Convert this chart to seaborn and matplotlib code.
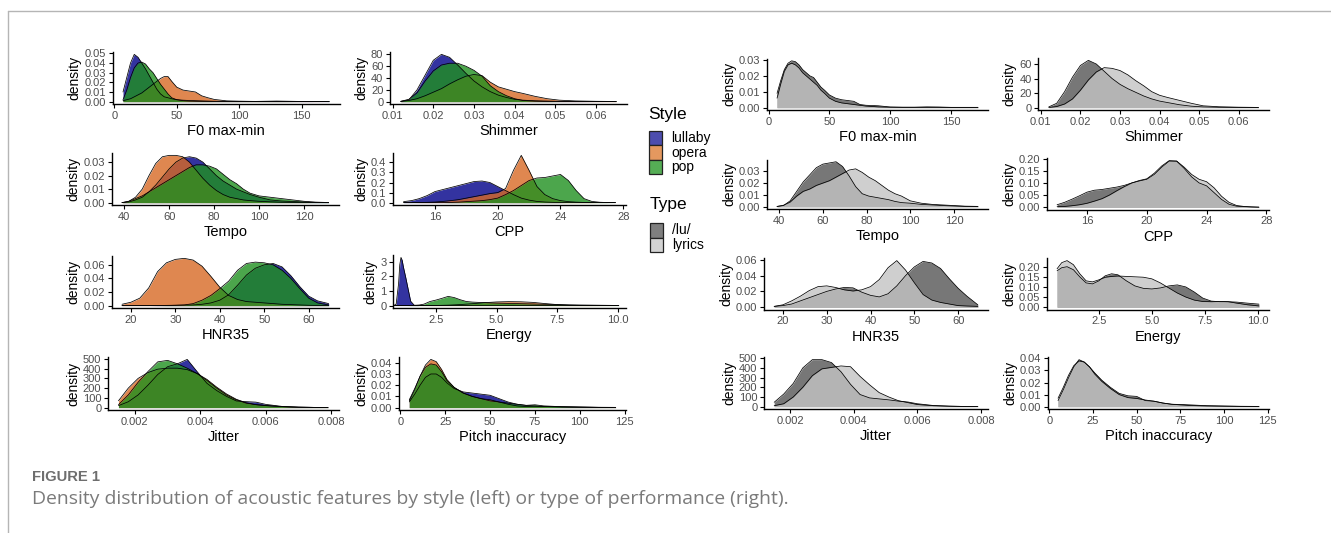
import numpy as np
import pandas as pd
import matplotlib
matplotlib.use("Agg")
import matplotlib.pyplot as plt
from matplotlib.patches import Rectangle
from matplotlib.lines import Line2D
import seaborn as sns

# ---------------------------------------------------------------- data
STYLES = ["lullaby", "opera", "pop"]
TYPES = ["/lu/", "lyrics"]

F0_X = [7, 10, 13, 16, 19, 22, 25, 28, 31, 34, 37, 40, 43, 46, 50, 55, 60, 65, 70, 75,
        80, 90, 100, 110, 120, 130, 140, 150, 160, 172]
F0_LULLABY = [0.010, 0.025, 0.040, 0.049, 0.046, 0.040, 0.034, 0.027, 0.020, 0.013, 0.008, 0.005,
              0.004, 0.003, 0.002, 0.0015, 0.0012, 0.001, 0.0008, 0.0006, 0.0004, 0.0003, 0.0002,
              0.0002, 0.0004, 0.0006, 0.0004, 0.0002, 0.0001, 0.0001]
F0_OPERA = [0.001, 0.002, 0.003, 0.005, 0.007, 0.009, 0.012, 0.015, 0.018, 0.021, 0.024, 0.026,
            0.026, 0.021, 0.015, 0.012, 0.011, 0.010, 0.006, 0.004, 0.0023, 0.0008, 0.0005, 0.0003,
            0.0002, 0.0002, 0.0001, 0.0001, 0.0001, 0.0]
F0_POP = [0.002, 0.012, 0.025, 0.035, 0.040, 0.041, 0.039, 0.034, 0.030, 0.024, 0.018, 0.013,
          0.008, 0.004, 0.002, 0.001, 0.0006, 0.0004, 0.0003, 0.0002, 0.0001, 0.0001, 0.0001,
          0.0001, 0.0001, 0.0001, 0.0001, 0.0, 0.0, 0.0]
F0_LU = [0.009, 0.017, 0.024, 0.028, 0.0295, 0.029, 0.027, 0.024, 0.022, 0.020, 0.019, 0.016,
         0.013, 0.011, 0.008, 0.006, 0.005, 0.0045, 0.004, 0.002, 0.0015, 0.0012, 0.0004, 0.0003,
         0.0003, 0.0005, 0.0004, 0.0002, 0.0002, 0.0002]
F0_LYRICS = [0.006, 0.015, 0.023, 0.027, 0.028, 0.027, 0.025, 0.022, 0.020, 0.018, 0.016, 0.014,
             0.011, 0.009, 0.006, 0.004, 0.003, 0.0025, 0.002, 0.0015, 0.001, 0.0005, 0.0003,
             0.0002, 0.0002, 0.0002, 0.0002, 0.0001, 0.0001, 0.0001]

SHIM_X = [0.012, 0.014, 0.016, 0.018, 0.020, 0.022, 0.024, 0.026, 0.028, 0.030, 0.032, 0.034,
          0.036, 0.038, 0.040, 0.042, 0.045, 0.048, 0.051, 0.055, 0.060, 0.065]
SHIM_LULLABY = [0.5, 3, 20, 45, 70, 80, 75, 62, 48, 35, 25, 17, 11, 7, 4, 2.5, 1.5, 1, 0.5, 0.3, 0.1, 0]
SHIM_OPERA = [0.3, 2, 5, 10, 16, 22, 30, 37, 43, 46, 44, 33, 25, 21, 17, 14, 9, 5, 2.5, 1.2, 0.6, 0.3]
SHIM_POP = [0.5, 4, 15, 35, 52, 62, 65, 65, 60, 53, 43, 27, 17, 10, 5, 2, 0.8, 0.3, 0.1, 0, 0, 0]
SHIM_LU = [1, 6, 22, 42, 58, 65, 60, 50, 40, 32, 26, 21, 16, 12, 9, 7, 4, 2, 1, 0.5, 0.3, 0.2]
SHIM_LYRICS = [0.3, 1.5, 5, 12, 24, 38, 49, 55, 54, 51, 45, 37, 30, 22, 17, 14, 10, 6, 2.5, 1.2, 0.6, 0.3]

TEMPO_X = [39, 42, 45, 48, 51, 54, 57, 60, 63, 66, 69, 72, 75, 78, 81, 84, 87, 90, 93, 96, 100,
           105, 110, 115, 120, 125, 131]
TEMPO_LULLABY = [0, 0.0005, 0.002, 0.004, 0.008, 0.013, 0.019, 0.025, 0.030, 0.033, 0.034, 0.033,
                 0.030, 0.025, 0.020, 0.016, 0.013, 0.010, 0.008, 0.006, 0.004, 0.002, 0.0012,
                 0.0008, 0.0005, 0.0002, 0.0001]
TEMPO_OPERA = [0, 0.001, 0.004, 0.010, 0.020, 0.029, 0.034, 0.035, 0.035, 0.034, 0.030, 0.024,
               0.018, 0.013, 0.009, 0.006, 0.004, 0.003, 0.002, 0.0015, 0.001, 0.0006, 0.0003,
               0.0002, 0.0001, 0, 0]
TEMPO_POP = [0, 0.001, 0.003, 0.005, 0.008, 0.011, 0.014, 0.017, 0.020, 0.023, 0.026, 0.028,
             0.028, 0.027, 0.025, 0.021, 0.017, 0.014, 0.010, 0.007, 0.005, 0.004, 0.003, 0.002,
             0.001, 0.0004, 0.0001]
TEMPO_LU = [0.0003, 0.001, 0.005, 0.013, 0.021, 0.027, 0.033, 0.036, 0.037, 0.038, 0.034, 0.026,
            0.017, 0.011, 0.009, 0.008, 0.007, 0.006, 0.0045, 0.0035, 0.003, 0.002, 0.0015, 0.001,
            0.0006, 0.0003, 0.0002]
TEMPO_LYRICS = [0.0002, 0.0013, 0.004, 0.009, 0.013, 0.015, 0.018, 0.020, 0.022, 0.025, 0.028,
                0.031, 0.032, 0.029, 0.025, 0.022, 0.018, 0.014, 0.011, 0.009, 0.005, 0.003,
                0.002, 0.0015, 0.001, 0.0005, 0.0003]

CPP_X = [14, 14.5, 15, 15.5, 16, 16.5, 17, 17.5, 18, 18.5, 19, 19.5, 20, 20.5, 21, 21.5, 22,
         22.5, 23, 23.5, 24, 24.5, 25, 25.5, 26, 26.5, 27, 27.5]
CPP_LULLABY = [0.01, 0.02, 0.04, 0.07, 0.11, 0.13, 0.15, 0.17, 0.19, 0.21, 0.215, 0.20, 0.16,
               0.12, 0.08, 0.045, 0.025, 0.012, 0.006, 0.003, 0.001, 0, 0, 0, 0, 0, 0, 0]
CPP_OPERA = [0, 0, 0.001, 0.003, 0.006, 0.012, 0.02, 0.03, 0.045, 0.06, 0.075, 0.09, 0.10, 0.14,
             0.32, 0.47, 0.32, 0.16, 0.08, 0.04, 0.02, 0.01, 0.005, 0.002, 0.001, 0, 0, 0]
CPP_POP = [0, 0, 0, 0, 0, 0, 0.002, 0.005, 0.01, 0.015, 0.02, 0.03, 0.045, 0.08, 0.12, 0.17,
           0.22, 0.245, 0.25, 0.265, 0.28, 0.22, 0.12, 0.04, 0.012, 0.004, 0.001, 0]
CPP_LU = [0.01, 0.02, 0.033, 0.047, 0.062, 0.07, 0.073, 0.078, 0.083, 0.09, 0.10, 0.108, 0.115,
          0.135, 0.165, 0.19, 0.19, 0.16, 0.125, 0.10, 0.088, 0.06, 0.032, 0.012, 0.004, 0.002,
          0.001, 0]
CPP_LYRICS = [0.002, 0.003, 0.006, 0.01, 0.016, 0.025, 0.035, 0.05, 0.068, 0.085, 0.10, 0.11,
              0.117, 0.14, 0.17, 0.192, 0.19, 0.165, 0.135, 0.115, 0.105, 0.08, 0.045, 0.02,
              0.007, 0.003, 0.001, 0]

HNR_X = [18, 20, 22, 24, 26, 28, 30, 32, 34, 36, 38, 40, 42, 44, 46, 48, 50, 52, 54, 56, 58, 60,
         62, 64.5]
HNR_LULLABY = [0, 0, 0, 0, 0.0002, 0.0004, 0.0006, 0.0008, 0.001, 0.002, 0.004, 0.008, 0.016,
               0.030, 0.045, 0.055, 0.060, 0.062, 0.057, 0.044, 0.028, 0.014, 0.007, 0.003]
HNR_OPERA = [0.002, 0.005, 0.011, 0.026, 0.050, 0.063, 0.068, 0.0695, 0.067, 0.058, 0.043,
             0.027, 0.015, 0.009, 0.006, 0.005, 0.004, 0.003, 0.002, 0.0015, 0.001, 0.0005,
             0.0003, 0.0001]
HNR_POP = [0, 0, 0, 0, 0, 0.0002, 0.0005, 0.001, 0.003, 0.008, 0.015, 0.025, 0.036, 0.052,
           0.062, 0.064, 0.063, 0.060, 0.052, 0.040, 0.025, 0.011, 0.004, 0.001]
HNR_LU = [0.001, 0.002, 0.004, 0.008, 0.012, 0.016, 0.020, 0.023, 0.025, 0.0245, 0.019, 0.015,
          0.013, 0.017, 0.027, 0.040, 0.051, 0.058, 0.056, 0.049, 0.036, 0.024, 0.014, 0.003]
HNR_LYRICS = [0.001, 0.003, 0.008, 0.014, 0.021, 0.026, 0.027, 0.025, 0.022, 0.0205, 0.022,
              0.026, 0.035, 0.050, 0.059, 0.047, 0.031, 0.016, 0.009, 0.006, 0.004, 0.002,
              0.0015, 0.001]

EN_X = [0.53, 0.65, 0.75, 0.85, 0.95, 1.0, 1.05, 1.1, 1.15, 1.25, 1.35, 1.45, 1.6, 1.8, 2.0,
        2.25, 2.5, 2.75, 3.0, 3.25, 3.5, 3.75, 4.0, 4.5, 5.0, 5.5, 6.0, 6.5, 7.0, 7.5, 8.0, 8.5,
        9.0, 9.5, 10.05]
EN_LULLABY = [0, 0, 0.005, 0.1, 1.5, 2.8, 3.3, 3.1, 2.65, 1.9, 1.1, 0.3, 0.02, 0, 0, 0, 0, 0,
              0, 0, 0, 0, 0, 0, 0, 0, 0, 0, 0, 0, 0, 0, 0, 0, 0]
EN_OPERA = [0, 0, 0, 0, 0, 0, 0, 0, 0, 0, 0, 0, 0, 0.001, 0.003, 0.005, 0.01, 0.02, 0.03, 0.05,
            0.07, 0.1, 0.13, 0.2, 0.25, 0.27, 0.26, 0.22, 0.14, 0.07, 0.03, 0.012, 0.005, 0.002,
            0.001]
EN_POP = [0, 0, 0, 0, 0, 0, 0, 0, 0, 0, 0.002, 0.005, 0.02, 0.04, 0.1, 0.28, 0.38, 0.5, 0.63,
          0.55, 0.4, 0.28, 0.24, 0.2, 0.17, 0.15, 0.13, 0.11, 0.09, 0.07, 0.05, 0.04, 0.03, 0.02,
          0.01]
ENR_X = [0.53, 0.75, 1.0, 1.3, 1.6, 1.9, 2.2, 2.5, 2.8, 3.1, 3.4, 3.8, 4.2, 4.6, 5.0, 5.4, 5.8,
         6.2, 6.6, 7.0, 7.4, 7.8, 8.2, 8.6, 9.0, 9.5, 10.05]
EN_LU = [0.18, 0.195, 0.20, 0.185, 0.15, 0.12, 0.115, 0.13, 0.155, 0.165, 0.16, 0.13, 0.105,
         0.093, 0.09, 0.095, 0.105, 0.11, 0.10, 0.075, 0.045, 0.03, 0.027, 0.027, 0.025, 0.02,
         0.015]
EN_LYRICS = [0.19, 0.22, 0.23, 0.21, 0.165, 0.13, 0.125, 0.135, 0.148, 0.152, 0.154, 0.152,
             0.15, 0.148, 0.14, 0.12, 0.095, 0.07, 0.05, 0.035, 0.028, 0.027, 0.028, 0.027, 0.02,
             0.012, 0.006]

JIT_X = [0.0015, 0.0018, 0.0021, 0.0024, 0.0027, 0.0030, 0.0033, 0.0036, 0.0039, 0.0042,
         0.0045, 0.0048, 0.0051, 0.0054, 0.0057, 0.0060, 0.0065, 0.0070, 0.0075, 0.0079]
JIT_LULLABY = [20, 60, 130, 230, 340, 420, 450, 495, 370, 250, 175, 115, 68, 61, 56, 33, 12, 5, 2, 1]
JIT_OPERA = [70, 200, 300, 360, 395, 405, 405, 390, 350, 290, 210, 140, 85, 50, 30, 20, 10, 4, 2, 1]
JIT_POP = [30, 130, 260, 370, 470, 485, 450, 405, 350, 280, 200, 130, 80, 45, 30, 22, 10, 4, 2, 1]
JIT_LU = [45, 130, 240, 400, 485, 485, 455, 360, 230, 125, 90, 80, 70, 57, 48, 30, 12, 5, 2, 1]
JIT_LYRICS = [10, 30, 100, 200, 320, 390, 405, 420, 412, 312, 225, 145, 100, 62, 42, 22, 10, 5, 2, 1]

PITCH_X = [5, 8, 11, 14, 17, 20, 23, 26, 30, 35, 40, 45, 50, 55, 60, 65, 70, 75, 80, 90, 100,
           110, 120]
PITCH_LULLABY = [0.005, 0.012, 0.020, 0.027, 0.030, 0.030, 0.027, 0.022, 0.017, 0.014, 0.013,
                 0.012, 0.011, 0.008, 0.005, 0.003, 0.002, 0.0015, 0.001, 0.0008, 0.0005, 0.0003,
                 0.0002]
PITCH_OPERA = [0.006, 0.016, 0.028, 0.038, 0.043, 0.041, 0.034, 0.025, 0.018, 0.013, 0.010,
               0.008, 0.007, 0.005, 0.003, 0.0015, 0.001, 0.0012, 0.001, 0.0005, 0.0003, 0.0002,
               0.0001]
PITCH_POP = [0.007, 0.017, 0.028, 0.036, 0.039, 0.038, 0.032, 0.024, 0.018, 0.013, 0.010, 0.008,
             0.006, 0.005, 0.004, 0.003, 0.002, 0.0025, 0.0015, 0.0008, 0.0005, 0.0002, 0.0001]
PITCH_LU = [0.005, 0.014, 0.024, 0.033, 0.039, 0.037, 0.033, 0.028, 0.022, 0.016, 0.011, 0.009,
            0.0085, 0.005, 0.0045, 0.003, 0.002, 0.0018, 0.0015, 0.0008, 0.0005, 0.0003, 0.0002]
PITCH_LYRICS = [0.007, 0.016, 0.026, 0.034, 0.038, 0.037, 0.033, 0.027, 0.021, 0.015, 0.010,
                0.0075, 0.0068, 0.0055, 0.0045, 0.003, 0.002, 0.0015, 0.001, 0.0006, 0.0004,
                0.0002, 0.0001]

# tick values
F0_XTICKS = [0, 50, 100, 150]
SHIM_XTICKS = [0.01, 0.02, 0.03, 0.04, 0.05, 0.06]
TEMPO_XTICKS = [40, 60, 80, 100, 120]
CPP_XTICKS = [16, 20, 24, 28]
HNR_XTICKS = [20, 30, 40, 50, 60]
EN_XTICKS = [2.5, 5.0, 7.5, 10.0]
JIT_XTICKS = [0.002, 0.004, 0.006, 0.008]
PITCH_XTICKS = [0, 25, 50, 75, 100, 125]

F0_YTICKS_L = [0, 0.01, 0.02, 0.03, 0.04, 0.05]
SHIM_YTICKS_L = [0, 20, 40, 60, 80]
TEMPO_YTICKS_L = [0, 0.01, 0.02, 0.03]
CPP_YTICKS_L = [0, 0.1, 0.2, 0.3, 0.4]
HNR_YTICKS_L = [0, 0.02, 0.04, 0.06]
EN_YTICKS_L = [0, 1, 2, 3]
JIT_YTICKS_L = [0, 100, 200, 300, 400, 500]
PITCH_YTICKS_L = [0, 0.01, 0.02, 0.03, 0.04]

F0_YTICKS_R = [0, 0.01, 0.02, 0.03]
SHIM_YTICKS_R = [0, 20, 40, 60]
TEMPO_YTICKS_R = [0, 0.01, 0.02, 0.03]
CPP_YTICKS_R = [0, 0.05, 0.10, 0.15, 0.20]
HNR_YTICKS_R = [0, 0.02, 0.04, 0.06]
EN_YTICKS_R = [0, 0.05, 0.10, 0.15, 0.20]
JIT_YTICKS_R = [0, 100, 200, 300, 400, 500]
PITCH_YTICKS_R = [0, 0.01, 0.02, 0.03, 0.04]

CAPTION_LABEL = "FIGURE 1"
CAPTION_TEXT = "Density distribution of acoustic features by style (left) or type of performance (right)."

# ---------------------------------------------------------------- style
sns.set_style("ticks")
plt.rcParams["font.family"] = ["Liberation Sans", "DejaVu Sans"]

W, H = 1331, 533
fig = plt.figure(figsize=(W / 100, H / 100), dpi=100)

STYLE_COLORS = ["#000088", "#d86924", "#1f901f"]
TYPE_COLORS = ["#555555", "#c4c4c4"]
STYLE_KEYS = ["#4d4dae", "#e4985f", "#55ad55"]
TYPE_KEYS = ["#7f7f7f", "#d3d3d3"]
ALPHA = 0.8
TICK_GREY = "#4d4d4d"


def fx(x):
    return x / W


def fy(y):
    return 1 - y / H


def draw_panel(rect, x, series, colors, xlabel, xticks, xfmt, yticks, yfmt, xlim=None):
    l, r, t, b = rect
    ax = fig.add_axes([fx(l), fy(b), (r - l) / W, (b - t) / H])
    x = np.asarray(x, dtype=float)
    for ys, c in zip(series, colors):
        ys = np.asarray(ys, dtype=float)
        ax.fill_between(x, 0, ys, color=c, alpha=ALPHA, linewidth=0, zorder=2)
        sns.lineplot(x=x, y=ys, ax=ax, color="black", linewidth=0.55,
                     estimator=None, sort=False, zorder=3)
    ymax = max(float(np.max(s)) for s in series)
    if xlim is None:
        span = x.max() - x.min()
        xlim = (x.min() - 0.05 * span, x.max() + 0.05 * span)
    ax.set_xlim(*xlim)
    ax.set_ylim(-0.05 * ymax, 1.05 * ymax)
    ax.set_xticks(xticks)
    ax.set_xticklabels([xfmt.format(v) for v in xticks])
    ax.set_yticks(yticks)
    ax.set_yticklabels([yfmt.format(v) for v in yticks])
    for s in ["top", "right"]:
        ax.spines[s].set_visible(False)
    for s in ["left", "bottom"]:
        ax.spines[s].set_color("black")
        ax.spines[s].set_linewidth(1.0)
    ax.tick_params(length=2.6, width=0.8, color="black", labelcolor=TICK_GREY,
                   labelsize=8, pad=2.2)
    ax.set_xlabel(xlabel, fontsize=10.5, color="black", labelpad=2.5)
    ax.set_ylabel("density", fontsize=10, color="black", labelpad=2)
    ax.set_facecolor("none")
    return ax


# ---- left block (Style)
draw_panel((112.7, 339.5, 52, 104), F0_X, [F0_LULLABY, F0_OPERA, F0_POP], STYLE_COLORS,
           "F0 max-min", F0_XTICKS, "{:g}", F0_YTICKS_L, "{:.2f}")
draw_panel((390, 627, 52, 104), SHIM_X, [SHIM_LULLABY, SHIM_OPERA, SHIM_POP], STYLE_COLORS,
           "Shimmer", SHIM_XTICKS, "{:.2f}", SHIM_YTICKS_L, "{:g}")
draw_panel((111.7, 339, 153, 205), TEMPO_X, [TEMPO_LULLABY, TEMPO_OPERA, TEMPO_POP], STYLE_COLORS,
           "Tempo", TEMPO_XTICKS, "{:g}", TEMPO_YTICKS_L, "{:.2f}")
draw_panel((393, 626, 153, 205), CPP_X, [CPP_LULLABY, CPP_OPERA, CPP_POP], STYLE_COLORS,
           "CPP", CPP_XTICKS, "{:g}", CPP_YTICKS_L, "{:.1f}")
draw_panel((111.7, 339, 256, 308), HNR_X, [HNR_LULLABY, HNR_OPERA, HNR_POP], STYLE_COLORS,
           "HNR35", HNR_XTICKS, "{:g}", HNR_YTICKS_L, "{:.2f}")
draw_panel((393, 626, 255, 308), EN_X, [EN_LULLABY, EN_OPERA, EN_POP], STYLE_COLORS,
           "Energy", EN_XTICKS, "{:.1f}", EN_YTICKS_L, "{:g}", xlim=(0.72, 10.35))
draw_panel((108, 338.5, 357, 410), JIT_X, [JIT_LULLABY, JIT_OPERA, JIT_POP], STYLE_COLORS,
           "Jitter", JIT_XTICKS, "{:.3f}", JIT_YTICKS_L, "{:g}")
draw_panel((399, 626, 357, 410), PITCH_X, [PITCH_LULLABY, PITCH_OPERA, PITCH_POP], STYLE_COLORS,
           "Pitch inaccuracy", PITCH_XTICKS, "{:g}", PITCH_YTICKS_L, "{:.2f}")

# ---- right block (Type)
draw_panel((767, 988, 58.5, 110), F0_X, [F0_LU, F0_LYRICS], TYPE_COLORS,
           "F0 max-min", F0_XTICKS, "{:g}", F0_YTICKS_R, "{:.2f}")
draw_panel((1038.3, 1269, 58, 110), SHIM_X, [SHIM_LU, SHIM_LYRICS], TYPE_COLORS,
           "Shimmer", SHIM_XTICKS, "{:.2f}", SHIM_YTICKS_R, "{:g}")
draw_panel((767, 988, 159.5, 209), TEMPO_X, [TEMPO_LU, TEMPO_LYRICS], TYPE_COLORS,
           "Tempo", TEMPO_XTICKS, "{:g}", TEMPO_YTICKS_R, "{:.2f}")
draw_panel((1047, 1269, 158.3, 209.5), CPP_X, [CPP_LU, CPP_LYRICS], TYPE_COLORS,
           "CPP", CPP_XTICKS, "{:g}", CPP_YTICKS_R, "{:.2f}")
draw_panel((764, 988, 258.3, 309.5), HNR_X, [HNR_LU, HNR_LYRICS], TYPE_COLORS,
           "HNR35", HNR_XTICKS, "{:g}", HNR_YTICKS_R, "{:.2f}")
draw_panel((1047, 1269, 258.3, 309.5), ENR_X, [EN_LU, EN_LYRICS], TYPE_COLORS,
           "Energy", EN_XTICKS, "{:.1f}", EN_YTICKS_R, "{:.2f}")
draw_panel((764, 988, 357.3, 409), JIT_X, [JIT_LU, JIT_LYRICS], TYPE_COLORS,
           "Jitter", JIT_XTICKS, "{:.3f}", JIT_YTICKS_R, "{:g}")
draw_panel((1048, 1269, 357.3, 409), PITCH_X, [PITCH_LU, PITCH_LYRICS], TYPE_COLORS,
           "Pitch inaccuracy", PITCH_XTICKS, "{:g}", PITCH_YTICKS_R, "{:.2f}")


# ---- legends (drawn manually in pixel layout)
def legend_block(title, labels, keys, x0, title_y, key_top, key_w=13.5, key_h=14.4):
    fig.text(fx(x0), fy(title_y), title, fontsize=12.5, color="black",
             ha="left", va="center")
    for i, (lab, col) in enumerate(zip(labels, keys)):
        top = key_top + i * key_h
        fig.add_artist(Rectangle((fx(x0), fy(top + key_h)), key_w / W, key_h / H,
                                 transform=fig.transFigure, facecolor=col,
                                 edgecolor="#222222", linewidth=0.9))
        fig.text(fx(x0 + key_w + 9), fy(top + key_h / 2), lab, fontsize=10,
                 color="black", ha="left", va="center")


legend_block("Style", STYLES, STYLE_KEYS, 648.5, 115, 131)
legend_block("Type", TYPES, TYPE_KEYS, 649.5, 205, 223.3)

# ---- page frame
fig.add_artist(Line2D([fx(8), 1], [fy(11), fy(11)], transform=fig.transFigure,
                      color="#b5b5b5", linewidth=1.0))
fig.add_artist(Line2D([fx(8), fx(8)], [fy(11), 0], transform=fig.transFigure,
                      color="#b5b5b5", linewidth=1.0))

# ---- caption
lab = fig.text(fx(32), fy(477), CAPTION_LABEL, fontsize=10,
               family=["Liberation Sans Narrow", "Liberation Sans"], fontweight="bold",
               color="#6e6e6e", ha="left", va="center")
cap = fig.text(fx(32), fy(499), CAPTION_TEXT, fontsize=12,
               family=["Open Sans", "DejaVu Sans"], color="#7a7a7a", ha="left", va="center")
fig.canvas.draw()
renderer = fig.canvas.get_renderer()
for t, target in [(lab, 68.0), (cap, 752.0)]:
    w = t.get_window_extent(renderer).width
    t.set_fontsize(t.get_fontsize() * target / w)

fig.savefig("out.png", dpi=100, facecolor="white")
